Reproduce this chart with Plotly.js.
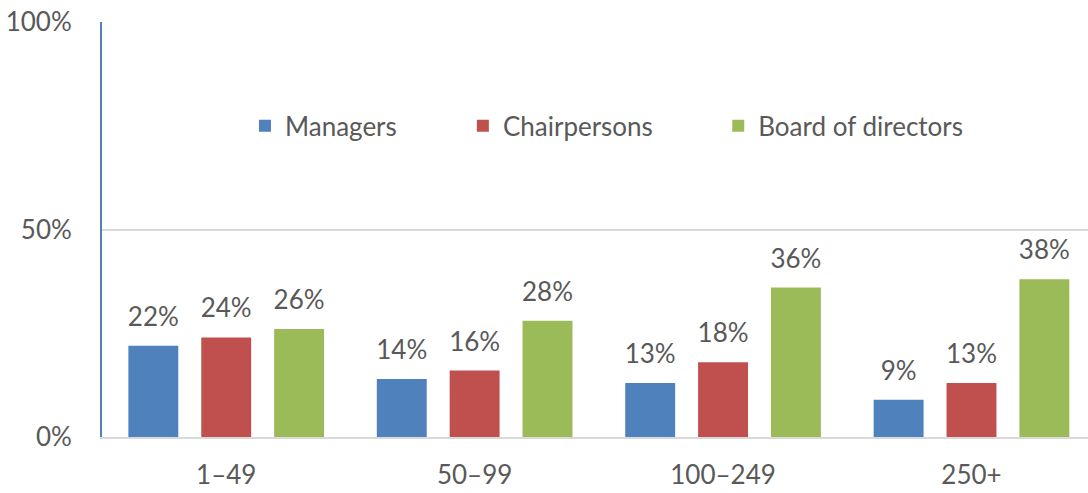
<!DOCTYPE html>
<html>
<head>
<meta charset="utf-8">
<script src="https://cdn.plot.ly/plotly-3.0.1.min.js"></script>
<style>html,body{margin:0;padding:0;background:#fff;}#chart{width:1088px;height:493px;}</style>
</head>
<body>
<div id="chart"></div>
<script>
const categories = ["1–49", "50–99", "100–249", "250+"];
const managers = [22, 14, 13, 9];
const chairpersons = [24, 16, 18, 13];
const board = [26, 28, 36, 38];
const seriesNames = ["Managers", "Chairpersons", "Board of directors"];
const colors = ["#4F81BD", "#C0504D", "#9BBB59"];
const yTicks = [0, 50, 100];

const font = "Lato, 'Open Sans', sans-serif";
const series = [managers, chairpersons, board];
const legendIds = ["legend", "legend2", "legend3"];
const legendX = [0.145, 0.366, 0.625];

const barTraces = series.map((vals, i) => ({
  type: "bar",
  name: seriesNames[i],
  x: categories,
  y: vals,
  offsetgroup: String(i),
  legend: legendIds[i],
  marker: {color: colors[i]},
  hoverinfo: "skip"
}));
const labelTraces = series.map((vals, i) => ({
  type: "scatter",
  mode: "text+markers",
  x: categories,
  y: vals,
  offsetgroup: String(i),
  showlegend: false,
  marker: {size: 20, opacity: 0, color: colors[i]},
  text: vals.map(v => v + "%"),
  textposition: "top center",
  textfont: {family: font, size: 26, color: "#595959"},
  cliponaxis: false,
  hoverinfo: "skip"
}));

function legendSpec(x) {
  return {
    orientation: "h",
    x: x, xanchor: "left",
    y: 0.75, yanchor: "middle",
    font: {family: font, size: 26, color: "#595959"},
    itemwidth: 30,
    bgcolor: "rgba(0,0,0,0)"
  };
}

const layout = {
  width: 1088,
  height: 493,
  margin: {l: 102, r: 0, t: 22, b: 56},
  paper_bgcolor: "#fff",
  plot_bgcolor: "#fff",
  barmode: "group",
  scattermode: "group",
  bargap: 0.12,
  scattergap: 0.12,
  bargroupgap: 0.315,
  font: {family: font, size: 26, color: "#595959"},
  showlegend: true,
  legend: legendSpec(legendX[0]),
  legend2: legendSpec(legendX[1]),
  legend3: legendSpec(legendX[2]),
  xaxis: {
    range: [-0.5, 3.469],
    showgrid: false,
    showline: true,
    linecolor: "#D9D9D9",
    linewidth: 2,
    ticks: "",
    tickfont: {family: font, size: 26, color: "#595959"},
    ticklabelstandoff: 14,
    fixedrange: true
  },
  yaxis: {
    range: [0, 100],
    tickvals: yTicks,
    ticktext: yTicks.map(v => v + "%"),
    showgrid: true,
    gridcolor: "#D9D9D9",
    gridwidth: 2,
    zeroline: false,
    showline: true,
    linecolor: "#4F81BD",
    linewidth: 2,
    ticks: "",
    ticklabelstandoff: 23,
    tickfont: {family: font, size: 26, color: "#595959"},
    fixedrange: true
  }
};

Plotly.newPlot("chart", barTraces.concat(labelTraces), layout, {displayModeBar: false, staticPlot: true});
</script>
</body>
</html>
